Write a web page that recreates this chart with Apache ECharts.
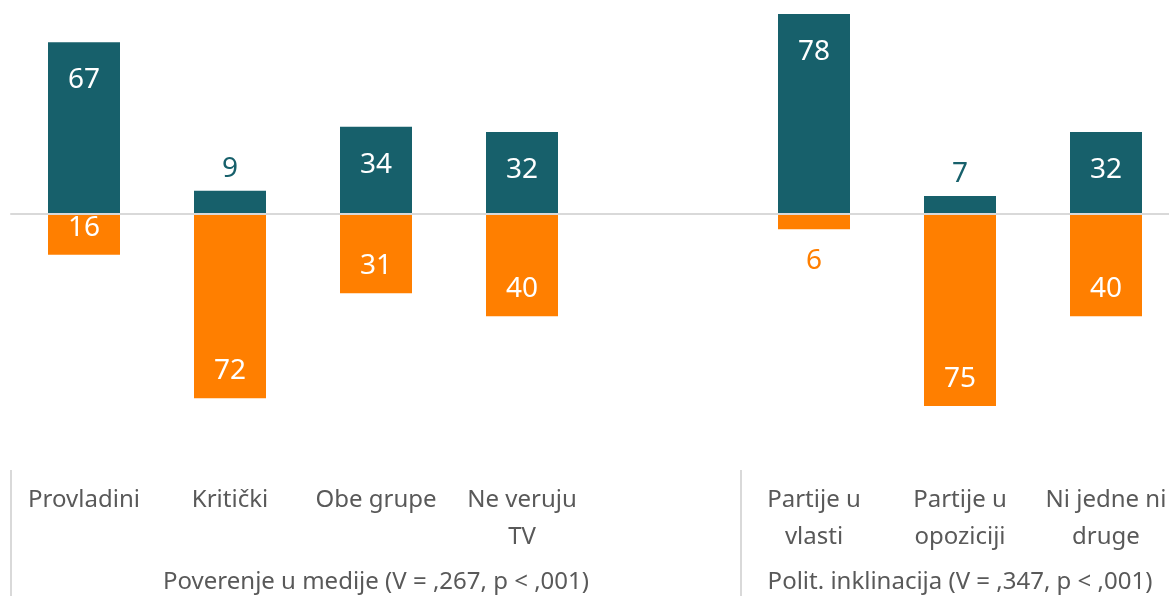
<!DOCTYPE html>
<html>
<head>
<meta charset="utf-8">
<script src="https://cdn.jsdelivr.net/npm/echarts@6/dist/echarts.min.js"></script>
<style>
  html, body { margin: 0; padding: 0; background: #fff; }
  #chartmain { width: 1169px; height: 596px; }
</style>
</head>
<body>
<div id="chartmain"></div>
<script>
  // podaci
  var kategorije = ['Provladini', 'Kritički', 'Obe grupe', 'Ne veruju\nTV', '', 'Partije u\nvlasti', 'Partije u\nopoziciji', 'Ni jedne ni\ndruge'];
  var grupe = ['', '', 'Poverenje u medije (V = ,267, p < ,001)', '', '', '', 'Polit. inklinacija (V = ,347, p < ,001)', ''];
  var gore = [67, 9, 34, 32, null, 78, 7, 32];   // tamna
  var dole = [16, 72, 31, 40, null, 6, 75, 40];  // narandzasta, crta se ispod nule

  var TEAL = '#17606b';
  var ORANGE = '#ff7f00';
  var FONT = 'Noto Sans';

  function praviGore() {
    var arr = [];
    for (var i = 0; i < gore.length; i++) {
      var v = gore[i];
      if (v == null) { arr.push(null); continue; }
      var obj = { value: v };
      if (v < 10) {
        obj.label = { position: 'top', distance: 8, color: TEAL };
      }
      arr.push(obj);
    }
    return arr;
  }

  function praviDole() {
    var arr = [];
    for (var i = 0; i < dole.length; i++) {
      var v = dole[i];
      if (v == null) { arr.push(null); continue; }
      var obj = { value: -v };
      if (v < 10) {
        obj.label = { position: 'bottom', distance: 18, color: ORANGE };
      }
      arr.push(obj);
    }
    return arr;
  }

  var myChart = echarts.init(document.getElementById('chartmain'));
  var option = {
    animation: false,
    grid: { left: 11, right: -10, top: 9, bottom: 126, outerBoundsMode: 'none' },
    xAxis: [{
      type: 'category',
      data: kategorije,
      axisLine: { onZero: true, lineStyle: { color: '#d9d9d9', width: 2 } },
      axisTick: { show: false },
      axisLabel: { show: false },
      z: 10
    }, {
      type: 'category',
      data: kategorije,
      position: 'bottom',
      axisLine: { show: false },
      axisTick: {
        show: true,
        length: 126,
        interval: function (index) { return index === 0 || index === 5; },
        lineStyle: { color: '#d9d9d9', width: 2 }
      },
      axisLabel: {
        interval: 0,
        margin: 12,
        fontFamily: FONT,
        fontSize: 24,
        lineHeight: 37,
        color: '#595959'
      }
    }, {
      type: 'category',
      data: grupe,
      position: 'bottom',
      offset: 92,
      axisLine: { show: false },
      axisTick: { show: false },
      axisLabel: {
        interval: 0,
        margin: 8,
        fontFamily: FONT,
        fontSize: 24,
        lineHeight: 24,
        color: '#595959'
      }
    }],
    yAxis: {
      type: 'value',
      min: -100,
      max: 80,
      show: false,
      splitLine: { show: false }
    },
    series: [{
      name: 'gore',
      type: 'bar',
      xAxisIndex: 0,
      barWidth: 72,
      barGap: '-100%',
      itemStyle: { color: TEAL },
      label: {
        show: true,
        position: 'insideTop',
        distance: 24,
        fontFamily: FONT,
        fontSize: 28,
        color: '#fff',
        formatter: function (p) { return Math.abs(p.value); }
      },
      data: praviGore()
    }, {
      name: 'dole',
      type: 'bar',
      xAxisIndex: 0,
      barWidth: 72,
      barGap: '-100%',
      itemStyle: { color: ORANGE },
      label: {
        show: true,
        position: 'insideBottom',
        distance: 13,
        fontFamily: FONT,
        fontSize: 28,
        color: '#fff',
        formatter: function (p) { return Math.abs(p.value); }
      },
      data: praviDole()
    }]
  };
  myChart.setOption(option);
</script>
</body>
</html>
